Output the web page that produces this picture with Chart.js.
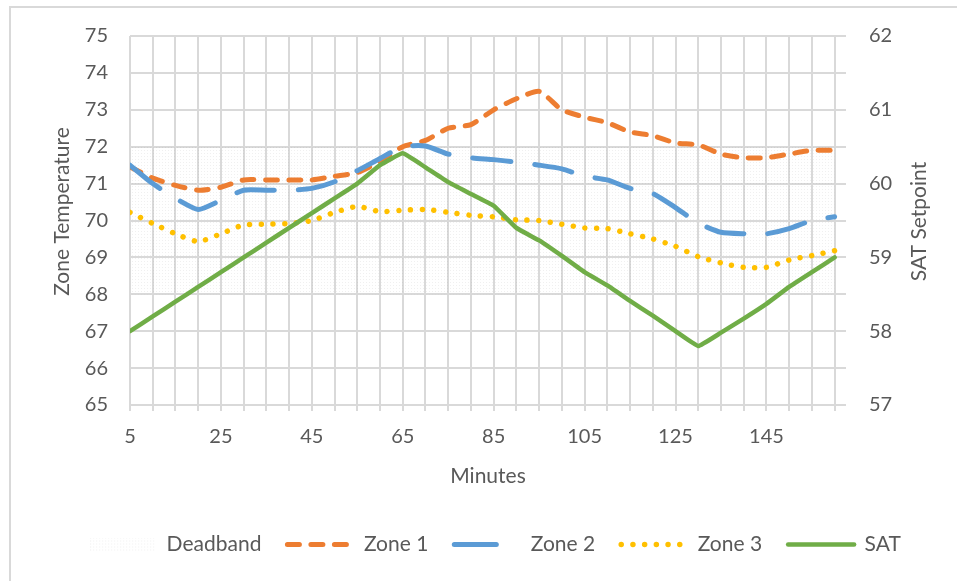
<!DOCTYPE html>
<html>
<head>
<meta charset="utf-8">
<title>Zone Temperature vs SAT Setpoint</title>
<script src="https://cdn.jsdelivr.net/npm/chart.js@4.4.1/dist/chart.umd.min.js"></script>
<style>
  html, body { margin: 0; padding: 0; background: #fff; }
  #wrap { width: 957px; height: 581px; }
</style>
</head>
<body>
<div id="wrap"><canvas id="zoneChart" width="957" height="581"></canvas></div>
<script>
// minutes on the x axis
const minutes = [5, 10, 15, 20, 25, 30, 35, 40, 45, 50, 55, 60, 65, 70, 75, 80,
  85, 90, 95, 100, 105, 110, 115, 120, 125, 130, 135, 140, 145, 150, 155, 160];

// zone temperatures (left axis)
const zone1 = [71.45, 71.15, 70.95, 70.82, 70.9, 71.1, 71.1, 71.1, 71.1, 71.2, 71.3, 71.6, 72.0, 72.17, 72.5, 72.6,
  73.0, 73.3, 73.5, 73.0, 72.8, 72.65, 72.4, 72.3, 72.1, 72.05, 71.8, 71.7, 71.7, 71.8, 71.9, 71.9];
const zone2 = [71.5, 71.0, 70.6, 70.3, 70.55, 70.82, 70.82, 70.82, 70.87, 71.05, 71.35, 71.68, 72.0, 72.02, 71.8, 71.7,
  71.65, 71.58, 71.5, 71.4, 71.2, 71.1, 70.87, 70.73, 70.35, 69.93, 69.68, 69.64, 69.64, 69.78, 70.0, 70.1];
const zone3 = [70.22, 69.92, 69.64, 69.43, 69.64, 69.88, 69.9, 69.92, 70.0, 70.22, 70.38, 70.24, 70.28, 70.3, 70.22, 70.14,
  70.1, 70.02, 70.0, 69.9, 69.8, 69.78, 69.64, 69.5, 69.3, 69.02, 68.85, 68.73, 68.73, 68.93, 69.05, 69.18];

// supply air temperature setpoint (right axis)
const sat = [58.0, 58.2, 58.4, 58.6, 58.8, 59.0, 59.2, 59.4, 59.6, 59.8, 60.0, 60.25, 60.41, 60.22, 60.02, 59.86,
  59.7, 59.4, 59.23, 59.02, 58.8, 58.62, 58.41, 58.21, 58.0, 57.8, 57.98, 58.17, 58.37, 58.6, 58.8, 59.0];

// deadband band: 68 to 72 across the run
const deadbandMinutes = [5, 160];
const deadbandTop = [72, 72];
const deadbandBottom = 68;

// axis ranges
const zoneTicks = [65, 66, 67, 68, 69, 70, 71, 72, 73, 74, 75];
const satTicks = [57, 58, 59, 60, 61, 62];
const labelEvery = 20;

const toPoints = (xs, ys) => xs.map((x, i) => ({ x: x, y: ys[i] }));

const textColor = '#595959';
const gridColor = '#d9d9d9';
const fontFamily = 'Lato, "Open Sans", sans-serif';

// faint dotted fill used by Excel for the deadband
function dotPattern() {
  const c = document.createElement('canvas');
  c.width = 3; c.height = 3;
  const g = c.getContext('2d');
  g.fillStyle = 'rgba(150,150,150,0.14)';
  g.fillRect(0, 0, 1, 1);
  return c;
}
const dots = dotPattern();
const ctx = document.getElementById('zoneChart').getContext('2d');
const deadbandFill = ctx.createPattern(dots, 'repeat');

const swatch = document.createElement('canvas');
swatch.width = 66; swatch.height = 14;
const sg = swatch.getContext('2d');
sg.fillStyle = sg.createPattern(dots, 'repeat');
sg.fillRect(0, 0, 66, 14);

Chart.defaults.font.family = fontFamily;
Chart.defaults.color = textColor;

// outer chart frame
const framePlugin = {
  id: 'frame',
  beforeDraw(chart) {
    const c = chart.ctx;
    c.save();
    c.fillStyle = '#fff';
    c.fillRect(0, 0, chart.width, chart.height);
    c.strokeStyle = gridColor;
    c.lineWidth = 2;
    c.strokeRect(10, 7, chart.width + 20, chart.height + 20);
    c.restore();
  }
};

// both axis titles read bottom-to-top, as in Excel
function vText(c, text, x, y) {
  c.save();
  c.translate(x, y);
  c.rotate(-Math.PI / 2);
  c.font = '21px ' + fontFamily;
  c.fillStyle = textColor;
  c.textAlign = 'center';
  c.textBaseline = 'middle';
  c.fillText(text, 0, 0);
  c.restore();
}
const axisTitlePlugin = {
  id: 'axisTitles',
  afterDraw(chart) {
    const area = chart.chartArea;
    const mid = (area.top + area.bottom) / 2;
    vText(chart.ctx, 'Zone Temperature', chart.scales.y.left + 28, mid - 9);
    vText(chart.ctx, 'SAT Setpoint', chart.scales.y1.right - 38, mid + 1);
  }
};

new Chart(ctx, {
  type: 'line',
  data: {
    datasets: [
      {
        label: 'Deadband',
        data: toPoints(deadbandMinutes, deadbandTop),
        yAxisID: 'y',
        borderWidth: 0,
        pointRadius: 0,
        backgroundColor: deadbandFill,
        fill: { value: deadbandBottom },
        order: 5
      },
      {
        label: 'Zone 1',
        data: toPoints(minutes, zone1),
        yAxisID: 'y',
        borderColor: '#ED7D31',
        backgroundColor: '#ED7D31',
        borderWidth: 5,
        borderDash: [12, 11.5],
        borderCapStyle: 'round',
        pointRadius: 0,
        tension: 0.2,
        fill: false,
        order: 4
      },
      {
        label: 'Zone 2',
        data: toPoints(minutes, zone2),
        yAxisID: 'y',
        borderColor: '#5B9BD5',
        backgroundColor: '#5B9BD5',
        borderWidth: 5,
        borderDash: [38, 24],
        borderCapStyle: 'round',
        pointRadius: 0,
        tension: 0.2,
        fill: false,
        order: 3
      },
      {
        label: 'Zone 3',
        data: toPoints(minutes, zone3),
        yAxisID: 'y',
        borderColor: '#FFC000',
        backgroundColor: '#FFC000',
        borderWidth: 5.5,
        borderDash: [0.01, 11.7],
        borderCapStyle: 'round',
        pointRadius: 0,
        tension: 0.2,
        fill: false,
        order: 2
      },
      {
        label: 'SAT',
        data: toPoints(minutes, sat),
        yAxisID: 'y1',
        borderColor: '#70AD47',
        backgroundColor: '#70AD47',
        borderWidth: 4.5,
        borderCapStyle: 'round',
        pointRadius: 0,
        tension: 0.1,
        fill: false,
        order: 1
      }
    ]
  },
  options: {
    responsive: false,
    animation: false,
    layout: { padding: { top: 36, left: 34, right: 0, bottom: 16 } },
    plugins: {
      tooltip: { enabled: false },
      legend: {
        position: 'bottom',
        labels: {
          usePointStyle: true,
          pointStyleWidth: 66,
          boxHeight: 14,
          padding: 26,
          color: textColor,
          font: { size: 21 },
          sort: (a, b) => a.datasetIndex - b.datasetIndex,
          generateLabels(chart) {
            const items = Chart.defaults.plugins.legend.labels.generateLabels(chart);
            items.forEach(it => {
              const ds = chart.data.datasets[it.datasetIndex];
              it.pointStyle = it.datasetIndex === 0 ? swatch : 'line';
              it.lineCap = 'round';
              it.lineDash = ds.borderDash || [];
              it.lineWidth = ds.borderWidth;
            });
            // the long-dash swatch shows a single dash in the Excel legend
            items[2].lineDash = [42, 40];
            return items;
          }
        }
      }
    },
    scales: {
      x: {
        type: 'linear',
        min: minutes[0],
        max: minutes[minutes.length - 1] + 2.5,
        border: { display: false },
        grid: { color: gridColor, lineWidth: 2, tickLength: 6, tickColor: gridColor },
        ticks: {
          stepSize: 5,
          includeBounds: false,
          autoSkip: false,
          maxRotation: 0,
          padding: 14,
          font: { size: 20 },
          callback: v => ((v - minutes[0]) % labelEvery === 0 && v < minutes[minutes.length - 1] - 10) ? String(v) : ''
        },
        title: { display: true, text: 'Minutes', font: { size: 21 }, padding: { bottom: 19 } },
        afterFit(scale) { scale.height = 103; }
      },
      y: {
        position: 'left',
        min: zoneTicks[0],
        max: zoneTicks[zoneTicks.length - 1],
        border: { display: false },
        grid: { color: gridColor, lineWidth: 2, drawTicks: false },
        ticks: { stepSize: 1, padding: 22, font: { size: 20 } },
        afterFit(scale) { scale.width = 96; }
      },
      y1: {
        position: 'right',
        min: satTicks[0],
        max: satTicks[satTicks.length - 1],
        border: { display: false },
        grid: { drawOnChartArea: false, drawTicks: false },
        ticks: { stepSize: 1, padding: 23, font: { size: 20 } },
        afterFit(scale) { scale.width = 111; }
      }
    }
  },
  plugins: [framePlugin, axisTitlePlugin]
});
</script>
</body>
</html>
